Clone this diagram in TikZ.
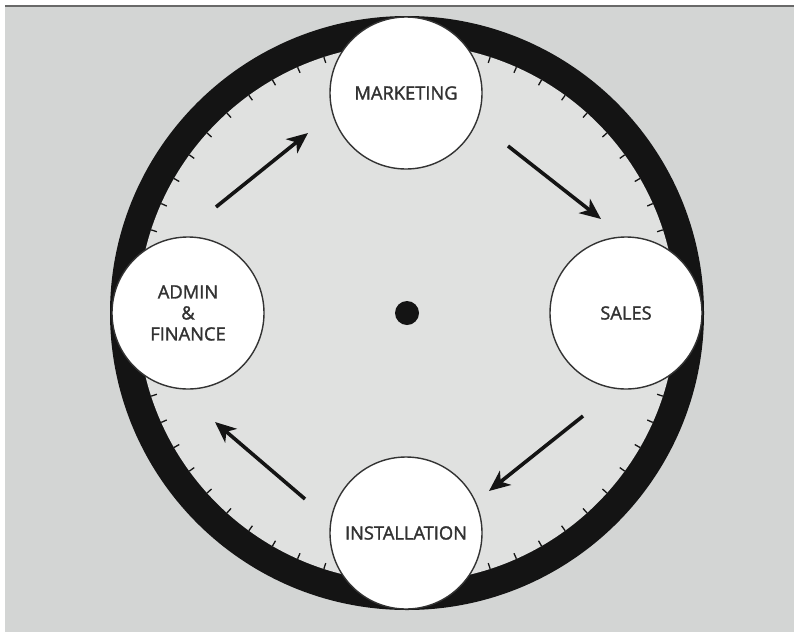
\documentclass[tikz,border=0pt]{standalone}
\usepackage{fontspec}
\setmainfont{Open Sans}
\newfontfamily\lblfont{Open Sans}[FakeBold=1.6]
\usetikzlibrary{arrows.meta,calc}
\definecolor{outbg}{RGB}{211,213,212}
\definecolor{inbg}{RGB}{224,225,224}
\definecolor{ringc}{RGB}{20,20,20}
\definecolor{txt}{RGB}{50,50,50}
\definecolor{topline}{RGB}{105,105,105}
\tikzset{
  bubble/.style={circle, draw=black!80, line width=1.4pt, fill=white, minimum size=152pt, inner sep=0pt,
    text=txt, font=\lblfont\fontsize{18.3}{22}\selectfont, align=center},
  flowarrow/.style={line width=3.6pt, draw=ringc, -{Stealth[length=21pt, width=18pt, inset=6pt]}},
  tick/.style={line width=1.3pt, draw=ringc}
}
\begin{document}
\begin{tikzpicture}[x=1pt, y=-1pt]
\useasboundingbox (0,0) rectangle (794,632);
\fill[white] (0,0) rectangle (794,632);
\fill[outbg] (5,6) rectangle (794,632);
\draw[topline, line width=2.2pt] (5,6) -- (794,6);
\coordinate (c) at (407,313);
% ring
\fill[ringc] (c) circle[radius=297];
\fill[inbg] (c) circle[radius=269];
% ticks
\foreach \a in {0,6,...,354}
  \draw[tick] ($(c)+(\a:269)$) -- ($(c)+(\a:263)$);
% centre dot
\fill[ringc] (c) circle[radius=12];
% bubbles
\node[bubble] (mkt) at (406,93) {MARKETING};
\node[bubble] (sales) at (626,313) {SALES};
\node[bubble] (inst) at (406,533) {INSTALLATION};
\node[bubble] (admin) at (188,313) {ADMIN\\[-1pt]\&\\[-1pt]FINANCE};
% arrows
\coordinate (a1s) at (216,207); \coordinate (a1e) at (308,133);
\coordinate (a2s) at (508,146); \coordinate (a2e) at (601,219);
\coordinate (a3s) at (583,416); \coordinate (a3e) at (489,491);
\coordinate (a4s) at (305,499); \coordinate (a4e) at (215,422);
\draw[flowarrow] (a1s) -- (a1e);
\draw[flowarrow] (a2s) -- (a2e);
\draw[flowarrow] (a3s) -- (a3e);
\draw[flowarrow] (a4s) -- (a4e);
\end{tikzpicture}
\end{document}
